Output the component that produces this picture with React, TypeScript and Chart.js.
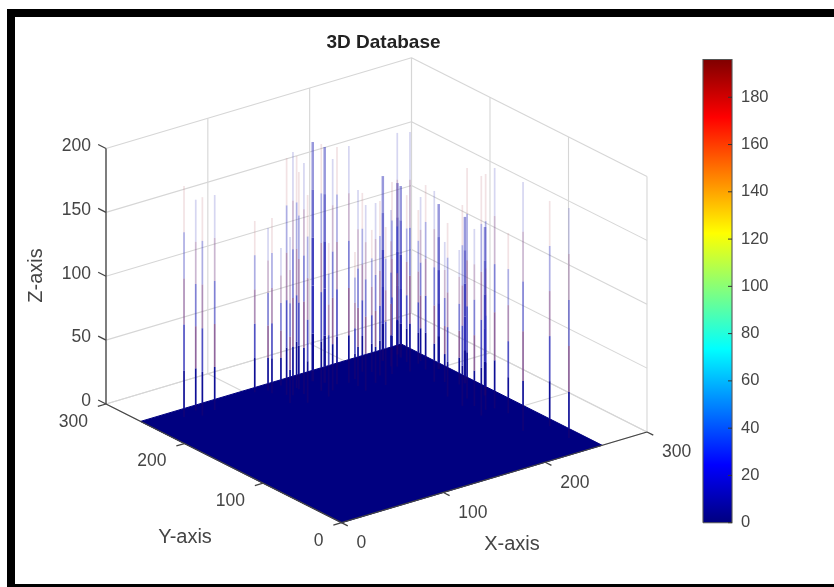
import React, { useEffect, useRef } from "react";
import { Chart, registerables } from "chart.js";

Chart.register(...registerables);

const spikeX = [32.3,47.5,45.3,59.8,106.3,116.8,115.8,130.7,122.8,126.4,137.4,115,137.2,134.7,126.1,155.6,149.2,161.1,146.7,156.7,167,176.2,184.5,177.8,197.9,176.7,203.5,192.5,204.1,223.9,196.1,222.2,213.4,225.9,240.8,239,237.4,227.7,242.4,247.1,239.8,230.1,248.4,236.2,220.2,242.2,217.8,247.1,230,225.2,217.7,244.6,227.5,234.8,237.3,225,247,244.4];
const spikeY = [242.5,247.3,236,239.1,248.4,245.1,238.8,246.7,229.2,225.8,235.4,214.7,232.3,222.6,206.7,238.5,219.3,230.4,206.6,214.5,222.4,219.2,222.2,209.6,230.2,198.4,225.4,206.3,215.8,237.8,198.1,225.2,212.5,222,241.1,234.6,224.9,208.2,216.6,219.8,203.9,180.3,198.4,174.9,150.5,164.2,128.6,163.3,138.4,122.9,104.3,134.5,111.5,109.5,95.4,60.6,55.2,27.3];
const spikeZ = [180.8,165,171,168.3,134.1,127.1,137.1,107.7,185.4,190.3,181.6,130,170.1,180.7,162.7,187.3,193.2,184.6,120.2,181.2,185.7,185.3,99.4,153.4,140,145.4,111.2,140.8,136.7,144.7,123.7,122.4,150.4,182.9,134.2,134.3,130.6,187.5,120.3,128.4,144.4,149.4,129.2,109.7,135.9,105.3,157.3,130.3,180.4,138.6,187.6,131.9,184.6,188.2,141,194.7,176.3,180];
const strongSpikes = [15,17,29,34,35,42,47,51];

const xyTicks = [0, 100, 200, 300];
const zTicks = [0, 50, 100, 150, 200];
const barTicks = [0, 20, 40, 60, 80, 100, 120, 140, 160, 180];
const barMax = 196;
const surfaceSize = 256;
const axisMax = 300;
const zMax = 200;

const GRID = "#d6d6d6";
const AXIS = "#444444";
const FONT = '"Liberation Sans", Arial, sans-serif';

function project(x: number, y: number, z: number) {
  return {
    x: 341.5 + (x * 305.5 - y * 235.5) / 300,
    y: 522.7 - (x * 90.7 + y * 118.7) / 300 - z * 1.2775,
  };
}
const barY = (v: number) => 522.7 - v * 2.3635;
const BAR_L = 703;
const BAR_R = 732;

function jet(t: number) {
  const c = (v: number) => Math.round(255 * Math.max(0, Math.min(1, v)));
  return `rgb(${c(1.5 - Math.abs(4 * t - 3))},${c(1.5 - Math.abs(4 * t - 2))},${c(1.5 - Math.abs(4 * t - 1))})`;
}

function lineDs(points: { x: number; y: number }[], color: string, width: number, order: number) {
  return {
    data: points,
    showLine: true,
    borderColor: color,
    borderWidth: width,
    pointRadius: 0,
    order,
    clip: false,
  };
}

function floorEdgeY(sx: number) {
  const a = project(0, surfaceSize, 0);
  const b = project(surfaceSize, surfaceSize, 0);
  const c = project(surfaceSize, 0, 0);
  if (sx < b.x) return a.y + ((sx - a.x) / (b.x - a.x)) * (b.y - a.y);
  return b.y + ((sx - b.x) / (c.x - b.x)) * (c.y - b.y);
}

function gridDatasets() {
  const out: any[] = [];
  const seg = (a: number[], b: number[]) =>
    out.push(lineDs([project(a[0], a[1], a[2]), project(b[0], b[1], b[2])], GRID, 1.1, 50));
  for (const t of xyTicks) {
    seg([t, 0, 0], [t, axisMax, 0]);
    seg([0, t, 0], [axisMax, t, 0]);
    seg([t, axisMax, 0], [t, axisMax, zMax]);
    seg([axisMax, t, 0], [axisMax, t, zMax]);
  }
  for (const z of zTicks) {
    seg([0, axisMax, z], [axisMax, axisMax, z]);
    seg([axisMax, axisMax, z], [axisMax, 0, z]);
  }
  return out;
}

function axisDatasets() {
  const out: any[] = [];
  const seg = (a: number[], b: number[]) =>
    out.push(lineDs([project(a[0], a[1], a[2]), project(b[0], b[1], b[2])], AXIS, 1.3, 5));
  seg([0, 0, 0], [axisMax, 0, 0]);
  seg([0, 0, 0], [0, axisMax, 0]);
  seg([0, axisMax, 0], [0, axisMax, zMax]);
  for (const t of xyTicks) {
    seg([t, 0, 0], [t, -8, 0]);
    seg([0, t, 0], [-8, t, 0]);
  }
  for (const z of zTicks) seg([0, axisMax, z], [0, axisMax + 10, z]);
  return out;
}

function spikeDatasets() {
  const bands = [0, 0.2, 0.4, 0.6, 0.8, 1];
  const alphas = [1, 0.85, 0.62, 0.4, 0.2];
  return spikeZ.map((z, i) => {
    const x = spikeX[i];
    const y = spikeY[i];
    const base = project(x, y, 0);
    const edgeZ = Math.max(0, (base.y - floorEdgeY(base.x)) / 1.2775);
    const levels = bands.map((f) => f * z).filter((v) => v > edgeZ);
    const zs = [0, edgeZ, ...levels];
    const strong = strongSpikes.includes(i);
    const pts = zs.map((v) => project(x, y, v));
    return {
      ...lineDs(pts, "#000080", strong ? 2.5 : 1.7, 10),
      segment: {
        borderColor: (ctx: any) => {
          const idx = ctx.p0DataIndex;
          const mid = (zs[idx] + zs[idx + 1]) / 2;
          if (mid < edgeZ) return "rgba(100,10,70,0.16)";
          const band = Math.min(4, Math.floor((mid / z) * 5));
          const a = strong ? Math.min(1, alphas[band] + 0.3) : alphas[band];
          const pink = (band + i) % 2 === 0 && !strong;
          if (band === 0) return `rgba(15,15,150,${a})`;
          if (!pink) return `rgba(50,50,185,${a})`;
          return band === 4 ? `rgba(190,110,120,${a})` : `rgba(125,75,140,${a})`;
        },
      },
    };
  });
}

function surfaceDataset() {
  const s = surfaceSize;
  return {
    ...lineDs(
      [project(0, 0, 0), project(s, 0, 0), project(s, s, 0), project(0, s, 0), project(0, 0, 0)],
      "#000080",
      1,
      20
    ),
    fill: "shape",
    backgroundColor: "#000080",
    tension: 0,
  };
}

function colorbarDatasets() {
  const out: any[] = [];
  const mid = (BAR_L + BAR_R) / 2;
  out.push({
    ...lineDs([{ x: mid, y: barY(0) }, { x: mid, y: barY(barMax) }], "#000080", BAR_R - BAR_L, 4),
    borderColor: (ctx: any) => {
      const g = ctx.chart.ctx.createLinearGradient(0, barY(0), 0, barY(barMax));
      for (let i = 0; i <= 64; i++) g.addColorStop(i / 64, jet(i / 64));
      return g;
    },
    borderCapStyle: "butt",
  });
  out.push(
    lineDs(
      [
        { x: BAR_L, y: barY(0) },
        { x: BAR_R, y: barY(0) },
        { x: BAR_R, y: barY(barMax) },
        { x: BAR_L, y: barY(barMax) },
        { x: BAR_L, y: barY(0) },
      ],
      "#555555",
      1.1,
      3
    )
  );
  for (const v of barTicks) {
    out.push(lineDs([{ x: BAR_R - 4, y: barY(v) }, { x: BAR_R, y: barY(v) }], "#333333", 1, 2));
  }
  return out;
}

const framePlugin = {
  id: "frame",
  beforeDraw(chart: any) {
    const c = chart.ctx;
    c.save();
    c.fillStyle = "#ffffff";
    c.fillRect(0, 0, 834, 587);
    c.fillStyle = "#000000";
    c.fillRect(7, 9, 8, 578);
    c.fillRect(7, 9, 827, 8);
    c.fillRect(7, 584, 827, 3);
    c.restore();
  },
};

const textPlugin = {
  id: "texts",
  afterDatasetsDraw(chart: any) {
    const c = chart.ctx;
    c.save();
    c.textBaseline = "middle";
    c.fillStyle = "#454545";
    c.font = `17.5px ${FONT}`;
    c.textAlign = "right";
    for (const z of zTicks) {
      const p = project(0, axisMax, z);
      c.fillText(String(z), p.x - 15, p.y - 2.5);
    }
    for (const t of xyTicks) {
      const p = project(0, t, 0);
      c.fillText(String(t), p.x - 18, p.y + 18);
    }
    c.textAlign = "left";
    for (const t of xyTicks) {
      const p = project(t, 0, 0);
      c.fillText(String(t), p.x + 15, p.y + 20.5);
    }
    c.font = `16.5px ${FONT}`;
    for (const v of barTicks) c.fillText(String(v), BAR_R + 9, barY(v));
    c.textAlign = "center";
    c.font = `20px ${FONT}`;
    c.fillText("X-axis", 512, 544);
    c.fillText("Y-axis", 185, 537);
    c.save();
    c.translate(36, 275.5);
    c.rotate(-Math.PI / 2);
    c.fillText("Z-axis", 0, 0);
    c.restore();
    c.fillStyle = "#222222";
    c.font = `bold 19px ${FONT}`;
    c.fillText("3D Database", 383.5, 43);
    c.restore();
  },
};

export default function App() {
  const ref = useRef<HTMLCanvasElement | null>(null);
  useEffect(() => {
    document.body.style.margin = "0";
    document.body.style.background = "#ffffff";
    const canvas = ref.current;
    if (!canvas) return;
    const chart = new Chart(canvas, {
      type: "scatter",
      data: {
        datasets: [
          ...gridDatasets(),
          surfaceDataset(),
          ...spikeDatasets(),
          ...axisDatasets(),
          ...colorbarDatasets(),
        ] as any,
      },
      options: {
        responsive: false,
        animation: false,
        layout: { padding: 0 },
        plugins: {
          legend: { display: false },
          tooltip: { enabled: false },
          title: { display: false, text: "3D Database" },
        },
        scales: {
          x: { type: "linear", min: 0, max: 834, display: false },
          y: { type: "linear", min: 0, max: 587, reverse: true, display: false },
        },
      },
      plugins: [framePlugin, textPlugin],
    });
    return () => chart.destroy();
  }, []);
  return (
    <canvas
      ref={ref}
      width={834}
      height={587}
      style={{ display: "block", width: 834, height: 587, filter: "blur(0.55px)" }}
    />
  );
}
